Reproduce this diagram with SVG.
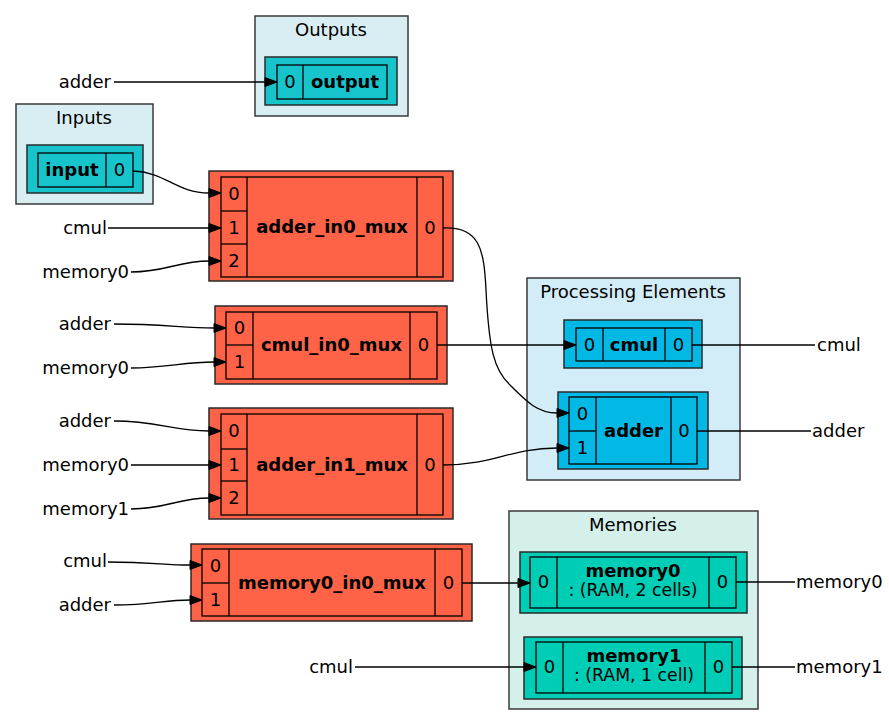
<svg xmlns="http://www.w3.org/2000/svg" width="889" height="725" viewBox="0 0 889 725">
<defs>
<style>
text{font-family:"DejaVu Sans","Liberation Sans",sans-serif;font-size:18px;fill:#000}
.b{font-weight:bold}
.m{text-anchor:middle}
.e{text-anchor:end}
.s{font-size:17.3px}
.cl{stroke:#3a3a3a;stroke-width:1.5}
.out{stroke:#2a2a2a;stroke-width:1.5}
.in{fill:none;stroke:#000;stroke-width:1.3}
.io{fill:#18c4cc}
.mux{fill:#ff6347}
.pe{fill:#02b9e6}
.mem{fill:#00cdb6}
.ed{fill:none;stroke:#000;stroke-width:1.3}
.ah{fill:#000;stroke:#000;stroke-width:1}
</style>
</defs>
<rect width="889" height="725" fill="#fff"/>

<g id="cluster_outputs">
<rect class="cl" x="255" y="16" width="153" height="100" fill="#d8eef2"/>
<text class="m" x="331" y="36">Outputs</text>
</g>
<g id="cluster_inputs">
<rect class="cl" x="16" y="104" width="137" height="100" fill="#d8eef2"/>
<text class="m" x="84" y="124">Inputs</text>
</g>
<g id="cluster_pe">
<rect class="cl" x="527" y="278" width="213" height="202" fill="#d3edf8"/>
<text class="m" x="633" y="298">Processing Elements</text>
</g>
<g id="cluster_mem">
<rect class="cl" x="509" y="511" width="249" height="198" fill="#d5f0ea"/>
<text class="m" x="633" y="531">Memories</text>
</g>

<g id="output">
<rect class="io out" x="265" y="57" width="132" height="48"/>
<rect class="in" x="277" y="65" width="110" height="34"/>
<line class="in" x1="303" y1="65" x2="303" y2="99"/>
<text class="m" x="290" y="88">0</text>
<text class="m b" x="345" y="88">output</text>
</g>

<g id="input">
<rect class="io out" x="27" y="145" width="116" height="48"/>
<rect class="in" x="38" y="153" width="95" height="34"/>
<line class="in" x1="106" y1="153" x2="106" y2="187"/>
<text class="m b" x="72" y="176">input</text>
<text class="m" x="119.5" y="176">0</text>
</g>

<g id="adder_in0_mux">
<rect class="mux out" x="209" y="171" width="244" height="110"/>
<rect class="in" x="221" y="177" width="222" height="100"/>
<line class="in" x1="247" y1="177" x2="247" y2="277"/>
<line class="in" x1="417" y1="177" x2="417" y2="277"/>
<line class="in" x1="221" y1="211" x2="247" y2="211"/>
<line class="in" x1="221" y1="244" x2="247" y2="244"/>
<text class="m" x="234" y="200">0</text>
<text class="m" x="234" y="234">1</text>
<text class="m" x="234" y="267">2</text>
<text class="m b" x="332" y="233">adder_in0_mux</text>
<text class="m" x="430" y="234">0</text>
</g>

<g id="cmul_in0_mux">
<rect class="mux out" x="215" y="306" width="232" height="78"/>
<rect class="in" x="226" y="312" width="211" height="67"/>
<line class="in" x1="253" y1="312" x2="253" y2="379"/>
<line class="in" x1="410" y1="312" x2="410" y2="379"/>
<line class="in" x1="226" y1="345" x2="253" y2="345"/>
<text class="m" x="239.5" y="334">0</text>
<text class="m" x="239.5" y="368">1</text>
<text class="m b" x="331.5" y="351">cmul_in0_mux</text>
<text class="m" x="423.5" y="351">0</text>
</g>

<g id="adder_in1_mux">
<rect class="mux out" x="209" y="408" width="244" height="111"/>
<rect class="in" x="221" y="414" width="222" height="101"/>
<line class="in" x1="247" y1="414" x2="247" y2="515"/>
<line class="in" x1="417" y1="414" x2="417" y2="515"/>
<line class="in" x1="221" y1="449" x2="247" y2="449"/>
<line class="in" x1="221" y1="481" x2="247" y2="481"/>
<text class="m" x="234" y="437">0</text>
<text class="m" x="234" y="471">1</text>
<text class="m" x="234" y="504">2</text>
<text class="m b" x="332" y="471">adder_in1_mux</text>
<text class="m" x="430" y="471">0</text>
</g>

<g id="memory0_in0_mux">
<rect class="mux out" x="191" y="544" width="281" height="77"/>
<rect class="in" x="202" y="549" width="260" height="67"/>
<line class="in" x1="229" y1="549" x2="229" y2="616"/>
<line class="in" x1="435" y1="549" x2="435" y2="616"/>
<line class="in" x1="202" y1="583" x2="229" y2="583"/>
<text class="m" x="215.5" y="572">0</text>
<text class="m" x="215.5" y="606">1</text>
<text class="m b" x="332" y="589">memory0_in0_mux</text>
<text class="m" x="448.5" y="589">0</text>
</g>

<g id="cmul">
<rect class="pe out" x="564" y="320" width="138" height="48"/>
<rect class="in" x="576" y="328" width="116" height="33"/>
<line class="in" x1="603" y1="328" x2="603" y2="361"/>
<line class="in" x1="665" y1="328" x2="665" y2="361"/>
<text class="m" x="589.5" y="351">0</text>
<text class="m b" x="634" y="351">cmul</text>
<text class="m" x="678.5" y="351">0</text>
</g>

<g id="adder">
<rect class="pe out" x="558" y="392" width="150" height="77"/>
<rect class="in" x="569" y="397" width="128" height="67"/>
<line class="in" x1="596" y1="397" x2="596" y2="464"/>
<line class="in" x1="671" y1="397" x2="671" y2="464"/>
<line class="in" x1="569" y1="431" x2="596" y2="431"/>
<text class="m" x="582.5" y="420">0</text>
<text class="m" x="582.5" y="454">1</text>
<text class="m b" x="633.5" y="437">adder</text>
<text class="m" x="684" y="437">0</text>
</g>

<g id="memory0">
<rect class="mem out" x="520" y="552" width="227" height="61"/>
<rect class="in" x="530" y="557" width="206" height="51"/>
<line class="in" x1="557" y1="557" x2="557" y2="608"/>
<line class="in" x1="709" y1="557" x2="709" y2="608"/>
<text class="m" x="543.5" y="588">0</text>
<text class="m b" x="633" y="577">memory0</text>
<text class="m s" x="633" y="596">: (RAM, 2 cells)</text>
<text class="m" x="722.5" y="588">0</text>
</g>

<g id="memory1">
<rect class="mem out" x="524" y="637" width="218" height="62"/>
<rect class="in" x="536" y="642" width="196" height="51"/>
<line class="in" x1="563" y1="642" x2="563" y2="693"/>
<line class="in" x1="705" y1="642" x2="705" y2="693"/>
<text class="m" x="549.5" y="673">0</text>
<text class="m b" x="634" y="662">memory1</text>
<text class="m s" x="634" y="681">: (RAM, 1 cell)</text>
<text class="m" x="718.5" y="673">0</text>
</g>

<g id="edges">
<path class="ed" d="M114,82 L265,82"/>
<polygon class="ah" points="265,77.5 277,82 265,86.5"/>
<path class="ed" d="M133,171 C166,172 176,193 209,193"/>
<polygon class="ah" points="209,188.5 221,193 209,197.5"/>
<path class="ed" d="M108,228 L209,228"/>
<polygon class="ah" points="209,223.5 221,228 209,232.5"/>
<path class="ed" d="M131,272 C166,272 178,261 209,261"/>
<polygon class="ah" points="209,256.5 221,261 209,265.5"/>
<path class="ed" d="M114,324 C163,324 183,328 214,328"/>
<polygon class="ah" points="214,323.5 226,328 214,332.5"/>
<path class="ed" d="M131,368 C166,368 183,362 214,362"/>
<polygon class="ah" points="214,357.5 226,362 214,366.5"/>
<path class="ed" d="M114,421 C158,421 173,431 209,431"/>
<polygon class="ah" points="209,426.5 221,431 209,435.5"/>
<path class="ed" d="M131,465 L209,465"/>
<polygon class="ah" points="209,460.5 221,465 209,469.5"/>
<path class="ed" d="M131,509 C166,509 178,498 209,498"/>
<polygon class="ah" points="209,493.5 221,498 209,502.5"/>
<path class="ed" d="M108,562 C153,562 163,565 190,565"/>
<polygon class="ah" points="190,560.5 202,565 190,569.5"/>
<path class="ed" d="M114,605 C153,605 163,600 190,600"/>
<polygon class="ah" points="190,595.5 202,600 190,604.5"/>
<path class="ed" d="M437,345 L564,345"/>
<polygon class="ah" points="564,340.5 576,345 564,349.5"/>
<path class="ed" d="M443,228 C480,226 484,250 486,290 C489,350 494,370 510,385 C528,403 538,413 557,413"/>
<polygon class="ah" points="557,408.5 569,413 557,417.5"/>
<path class="ed" d="M443,465 C495,465 510,448 557,448"/>
<polygon class="ah" points="557,443.5 569,448 557,452.5"/>
<path class="ed" d="M462,583 L518,583"/>
<polygon class="ah" points="518,578.5 530,583 518,587.5"/>
<path class="ed" d="M355,667 L524,667"/>
<polygon class="ah" points="524,662.5 536,667 524,671.5"/>
<path class="ed" d="M692,345 L815,345"/>
<path class="ed" d="M697,431 L811,431"/>
<path class="ed" d="M736,582 L795,582"/>
<path class="ed" d="M732,667 L795,667"/>
</g>

<g id="edge_labels">
<text class="e" x="111" y="88">adder</text>
<text class="e" x="107" y="234">cmul</text>
<text class="e" x="129" y="278">memory0</text>
<text class="e" x="111" y="330">adder</text>
<text class="e" x="129" y="374">memory0</text>
<text class="e" x="111" y="427">adder</text>
<text class="e" x="129" y="471">memory0</text>
<text class="e" x="129" y="515">memory1</text>
<text class="e" x="107" y="567">cmul</text>
<text class="e" x="111" y="611">adder</text>
<text class="e" x="353" y="673">cmul</text>
<text x="817" y="351">cmul</text>
<text x="812" y="437">adder</text>
<text x="796" y="588">memory0</text>
<text x="796" y="673">memory1</text>
</g>
</svg>
